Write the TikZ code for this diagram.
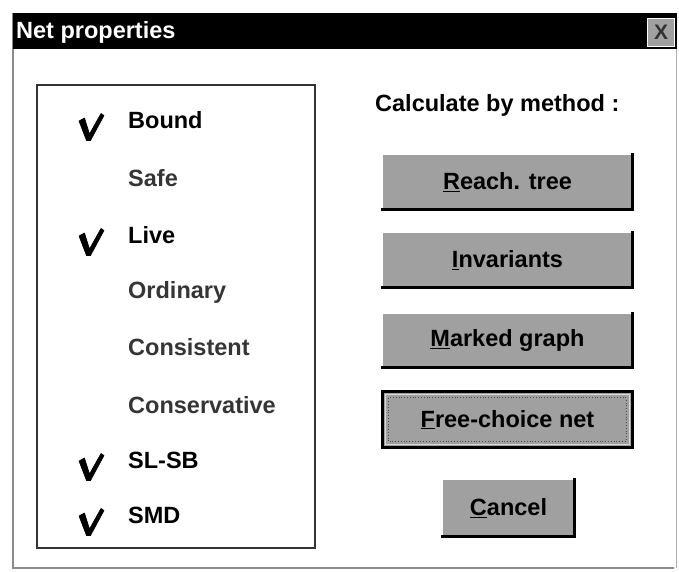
\documentclass[tikz,border=0pt]{standalone}
\usepackage{fontspec}
\setmainfont{Liberation Sans}
\definecolor{btngray}{HTML}{A0A0A0}
\definecolor{framegray}{HTML}{8C8C8C}
\definecolor{dimtext}{HTML}{353535}
\tikzset{
  uifont/.style={font=\fontsize{23.5}{27}\selectfont\bfseries},
  item/.style={uifont, anchor=west, text=dimtext, inner sep=0pt},
  checked/.style={item, text=black},
  button/.style={uifont, fill=btngray, draw=none, inner sep=0pt},
  btnshadow/.style={line width=3pt, black, line cap=rect},
  tick/.style={fill=black, draw=black, line width=0.6pt, line join=round},
}
\newcommand{\tickmark}[2]{%
  \fill[tick, shift={(#1,#2)}]
    (0,8) -- (5.5,5) -- (10.5,21) -- (22,0.5) -- (25,2.5) -- (11.5,27.5) -- (7.5,27.5) -- cycle;}
\begin{document}
\begin{tikzpicture}[x=1pt, y=-1pt]
  \useasboundingbox (0,0) rectangle (679,571);
  \fill[white] (0,0) rectangle (679,571);

  % window frame
  \draw[framegray, line width=1.2pt] (13,13) -- (13,568) -- (674,568);
  \draw[framegray!70, line width=1pt] (676,13) -- (676,568);

  % title bar
  \fill[black] (13,13) rectangle (677,49);
  \node[font=\fontsize{23.5}{26}\selectfont\bfseries, text=white, anchor=west, inner sep=0pt]
    (title) at (16,32) {Net properties};
  \node[fill=btngray, draw=white, line width=1pt, minimum width=27pt, minimum height=28pt,
        inner sep=0pt, font=\fontsize{21}{22}\selectfont\bfseries, text=black!80]
    (close) at (661,32) {X};

  % group box with properties
  \draw[black!80, line width=1.2pt] (37,85) rectangle (315,548);
  \node[checked] (bound) at (128,120) {Bound};
  \node[item]    (safe)  at (128,178) {Safe};
  \node[checked] (live)  at (128,235) {Live};
  \node[item]    (ord)   at (128,292) {Ordinary};
  \node[item]    (cons)  at (128,347) {Consistent};
  \node[item]    (conv)  at (128,405) {Conservative};
  \node[checked] (slsb)  at (128,460) {SL-SB};
  \node[checked] (smd)   at (128,515) {SMD};
  \tickmark{79}{113}
  \tickmark{79}{228}
  \tickmark{79}{453}
  \tickmark{79}{508}

  % method buttons
  \node[uifont, anchor=west, inner sep=0pt] (calc) at (375,105) {Calculate by method :};

  \node[button, minimum width=249pt, minimum height=54pt] (reach) at (507.5,182)
    {\underline{R}each. tree};
  \node[button, minimum width=249pt, minimum height=54pt] (inv) at (507.5,260)
    {\underline{I}nvariants};
  \node[button, minimum width=249pt, minimum height=54pt] (mark) at (507.5,340.5)
    {\underline{M}arked graph};
  \node[button, minimum width=249pt, minimum height=55pt] (free) at (507.5,419.5)
    {\underline{F}ree-choice net};
  \node[button, minimum width=131pt, minimum height=56pt] (cancel) at (508.5,508)
    {\underline{C}ancel};

  \foreach \b in {reach, inv, mark, cancel} {
    \draw[btnshadow] (\b.south west) -- (\b.south east) -- (\b.north east);
  }

  % default button: full dark border and dotted focus frame
  \draw[black, line width=3pt] (free.south west) rectangle (free.north east);
  \draw[white!85!black, line width=1pt] ([shift={(3pt,3pt)}]free.south west) rectangle ([shift={(-3pt,-3pt)}]free.north east);
  \draw[black!70, line width=0.8pt, dotted] ([shift={(6pt,6pt)}]free.south west) rectangle ([shift={(-6pt,-6pt)}]free.north east);
\end{tikzpicture}
\end{document}
